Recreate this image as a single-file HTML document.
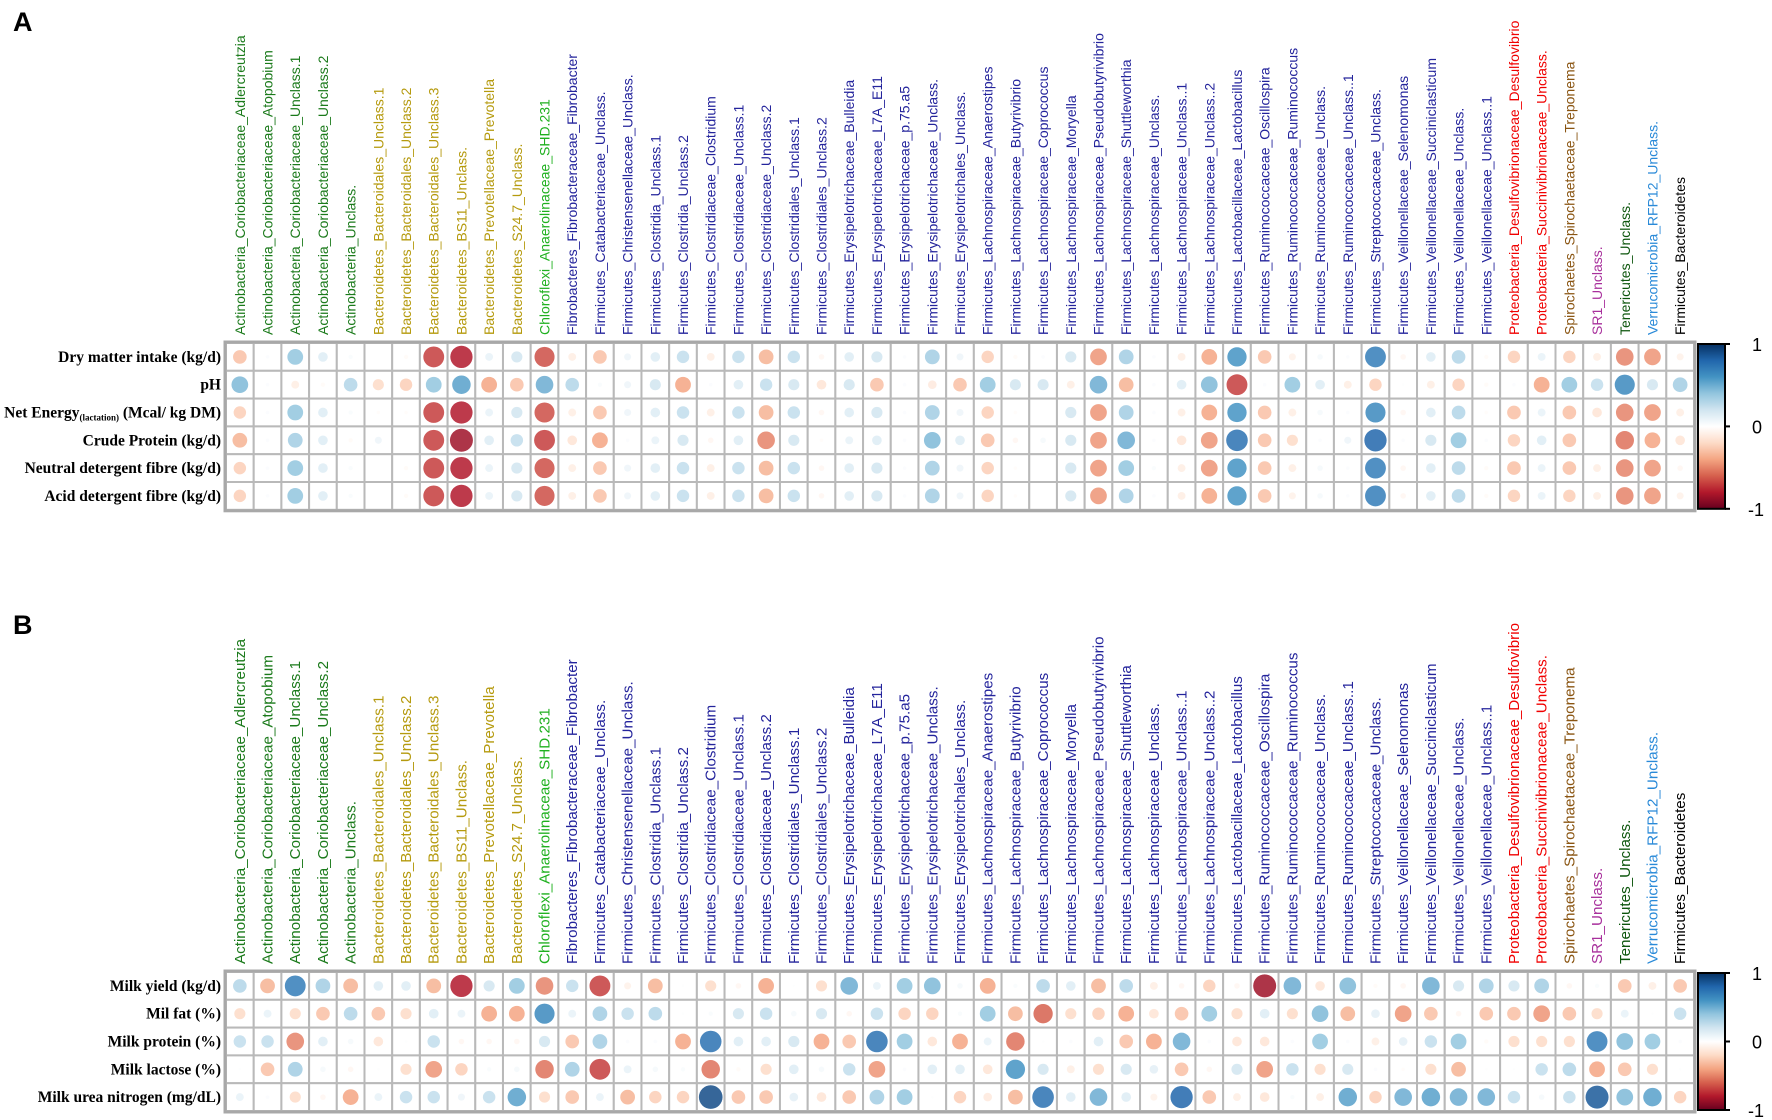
<!DOCTYPE html>
<html><head><meta charset="utf-8"><style>
html,body{margin:0;padding:0;background:#fff;}
svg{display:block;}
</style></head>
<body>
<svg id="chart" width="1772" height="1120" viewBox="0 0 1772 1120" xmlns="http://www.w3.org/2000/svg">
<defs>
<linearGradient id="cbar" x1="0" y1="1" x2="0" y2="0">
<stop offset="0" stop-color="#67001F"/><stop offset="0.1" stop-color="#B2182B"/><stop offset="0.2" stop-color="#D6604D"/><stop offset="0.3" stop-color="#F4A582"/><stop offset="0.4" stop-color="#FDDBC7"/><stop offset="0.5" stop-color="#FFFFFF"/><stop offset="0.6" stop-color="#D1E5F0"/><stop offset="0.7" stop-color="#92C5DE"/><stop offset="0.8" stop-color="#4393C3"/><stop offset="0.9" stop-color="#2166AC"/><stop offset="1" stop-color="#053061"/>
</linearGradient>
</defs>
<text x="13" y="31" font-family="Liberation Sans, sans-serif" font-weight="bold" font-size="27">A</text>
<text x="13" y="634" font-family="Liberation Sans, sans-serif" font-weight="bold" font-size="27">B</text>
<g id="panelA"></g>
<g id="panelB"></g>
</svg>
<script>
const taxa = ["Actinobacteria_Coriobacteriaceae_Adlercreutzia","Actinobacteria_Coriobacteriaceae_Atopobium","Actinobacteria_Coriobacteriaceae_Unclass.1","Actinobacteria_Coriobacteriaceae_Unclass.2","Actinobacteria_Unclass.","Bacteroidetes_Bacteroidales_Unclass.1","Bacteroidetes_Bacteroidales_Unclass.2","Bacteroidetes_Bacteroidales_Unclass.3","Bacteroidetes_BS11_Unclass.","Bacteroidetes_Prevotellaceae_Prevotella","Bacteroidetes_S24.7_Unclass.","Chloroflexi_Anaerolinaceae_SHD.231","Fibrobacteres_Fibrobacteraceae_Fibrobacter","Firmicutes_Catabacteriaceae_Unclass.","Firmicutes_Christensenellaceae_Unclass.","Firmicutes_Clostridia_Unclass.1","Firmicutes_Clostridia_Unclass.2","Firmicutes_Clostridiaceae_Clostridium","Firmicutes_Clostridiaceae_Unclass.1","Firmicutes_Clostridiaceae_Unclass.2","Firmicutes_Clostridiales_Unclass.1","Firmicutes_Clostridiales_Unclass.2","Firmicutes_Erysipelotrichaceae_Bulleidia","Firmicutes_Erysipelotrichaceae_L7A_E11","Firmicutes_Erysipelotrichaceae_p.75.a5","Firmicutes_Erysipelotrichaceae_Unclass.","Firmicutes_Erysipelotrichales_Unclass.","Firmicutes_Lachnospiraceae_Anaerostipes","Firmicutes_Lachnospiraceae_Butyrivibrio","Firmicutes_Lachnospiraceae_Coprococcus","Firmicutes_Lachnospiraceae_Moryella","Firmicutes_Lachnospiraceae_Pseudobutyrivibrio","Firmicutes_Lachnospiraceae_Shuttleworthia","Firmicutes_Lachnospiraceae_Unclass.","Firmicutes_Lachnospiraceae_Unclass..1","Firmicutes_Lachnospiraceae_Unclass..2","Firmicutes_Lactobacillaceae_Lactobacillus","Firmicutes_Ruminococcaceae_Oscillospira","Firmicutes_Ruminococcaceae_Ruminococcus","Firmicutes_Ruminococcaceae_Unclass.","Firmicutes_Ruminococcaceae_Unclass..1","Firmicutes_Streptococcaceae_Unclass.","Firmicutes_Veillonellaceae_Selenomonas","Firmicutes_Veillonellaceae_Succiniclasticum","Firmicutes_Veillonellaceae_Unclass.","Firmicutes_Veillonellaceae_Unclass..1","Proteobacteria_Desulfovibrionaceae_Desulfovibrio","Proteobacteria_Succinivibrionaceae_Unclass.","Spirochaetes_Spirochaetaceae_Treponema","SR1_Unclass.","Tenericutes_Unclass.","Verrucomicrobia_RFP12_Unclass.","Firmicutes_Bacteroidetes"];
const rowsA = ["Dry matter intake (kg/d)","pH","NE","Crude Protein (kg/d)","Neutral detergent fibre (kg/d)","Acid detergent fibre (kg/d)"];
const rowsB = ["Milk yield (kg/d)","Mil fat (%)","Milk protein (%)","Milk lactose (%)","Milk urea nitrogen (mg/dL)"];
const colorbarTicks = ["1","0","-1"];
// Panel A values
const dmi = [-0.3,0.02,0.4,0.15,0.03,0,-0.03,-0.7,-0.8,0.1,0.2,-0.65,-0.1,-0.3,0.08,0.15,0.25,-0.1,0.25,-0.35,0.25,-0.05,0.15,0.2,0.02,0.35,0.08,-0.25,-0.03,0.02,0.2,-0.45,0.35,0.02,-0.1,-0.4,0.6,-0.3,-0.08,0.05,0.02,0.7,-0.05,0.15,0.3,-0.03,-0.25,0.1,-0.25,-0.1,-0.5,-0.45,-0.08];
const ph = [0.45,0.02,-0.1,-0.03,0.3,-0.2,-0.25,0.4,0.55,-0.4,-0.3,0.5,0.3,0.03,0.08,0.2,-0.4,0.02,0.15,0.25,0.2,-0.15,0.2,-0.3,0.02,-0.12,-0.3,0.4,0.2,0.2,-0.1,0.5,-0.35,0.02,0.15,0.45,-0.7,0.02,0.4,0.15,-0.1,-0.25,0.01,-0.1,-0.25,-0.03,0.02,-0.4,0.4,0.25,0.65,0.2,0.35];
const ne = [-0.25,0.02,0.4,0.15,0.03,-0.02,-0.02,-0.7,-0.8,0.1,0.2,-0.65,-0.1,-0.3,0.08,0.15,0.25,-0.1,0.25,-0.35,0.25,-0.05,0.15,0.2,0.02,0.35,0.08,-0.25,-0.02,0,0.2,-0.45,0.35,0.02,-0.1,-0.4,0.6,-0.3,-0.1,0.05,0.02,0.65,-0.05,0.15,0.3,-0.02,-0.3,0.1,-0.3,-0.15,-0.5,-0.45,-0.1];
const cp = [-0.35,0.02,0.35,0.15,-0.03,0.08,0,-0.7,-0.85,0.15,0.25,-0.7,-0.15,-0.4,0.02,0.1,0.2,-0.05,0.15,-0.5,0.2,-0.02,0.1,0.15,0.02,0.45,0.15,-0.3,-0.05,0.05,0.2,-0.45,0.5,0.02,-0.15,-0.45,0.75,-0.3,-0.2,0.02,0.08,0.8,0.02,0.2,0.4,0.02,-0.25,0.15,-0.3,0,-0.55,-0.4,-0.15];
const ndf = [-0.25,0.02,0.4,0.15,0.03,0,-0.03,-0.7,-0.8,0.1,0.2,-0.65,-0.1,-0.3,0.08,0.15,0.25,-0.1,0.25,-0.35,0.25,-0.05,0.15,0.2,0.02,0.35,0.08,-0.25,-0.02,0,0.2,-0.45,0.4,0.03,-0.1,-0.45,0.6,-0.3,-0.1,0.05,0.02,0.7,-0.05,0.15,0.3,-0.03,-0.3,0.1,-0.3,-0.1,-0.5,-0.45,-0.05];
const adf = [-0.25,0.02,0.4,0.15,0.03,0,-0.03,-0.7,-0.8,0.1,0.2,-0.65,-0.1,-0.3,0.08,0.15,0.25,-0.1,0.25,-0.35,0.25,-0.05,0.15,0.2,0.02,0.35,0.08,-0.25,-0.02,0,0.2,-0.45,0.35,0.02,-0.1,-0.4,0.6,-0.3,-0.08,0.05,0.02,0.7,-0.05,0.15,0.3,-0.03,-0.25,0.1,-0.25,-0.1,-0.5,-0.45,-0.08];
// Panel B values
const milkYield = [0.3,-0.35,0.7,0.35,-0.35,0.15,0.15,-0.35,-0.8,0.2,0.4,-0.5,0.25,-0.7,-0.08,-0.35,0.01,-0.2,-0.05,-0.4,0.01,-0.2,0.5,0.1,0.4,0.45,0.05,-0.4,0.03,0.3,0.15,-0.35,0.3,-0.1,-0.05,-0.25,-0.05,-0.85,0.5,-0.15,0.45,-0.03,-0.05,0.5,0.2,0.35,0.2,0.35,-0.05,0.03,-0.3,-0.1,-0.3];
const milkFat = [-0.2,0.1,-0.2,-0.3,0.3,-0.3,-0.2,0.15,0.1,-0.4,-0.4,0.65,0.1,0.35,0.25,0.3,0.01,0.03,0.2,0.25,0.05,0.2,-0.05,0.25,-0.25,-0.25,0.03,0.4,-0.35,-0.6,-0.2,-0.25,-0.4,-0.15,-0.3,0.4,-0.2,0.15,-0.2,0.45,-0.35,0.12,-0.45,-0.3,-0.05,-0.3,-0.3,-0.45,-0.3,-0.2,0.1,0.01,0.25];
const milkProtein = [0.25,0.25,-0.5,0.15,0.05,-0.15,0.01,0.25,-0.05,-0.05,-0.05,0.2,-0.3,0.35,0.02,0.02,-0.4,0.75,0.15,0.15,0.2,-0.4,-0.3,0.75,0.4,-0.15,-0.4,0.1,-0.55,0.01,0.02,0.15,-0.3,-0.4,0.5,0.02,-0.15,-0.15,0.02,0.4,0.02,-0.1,0.12,0.25,0.4,-0.03,-0.2,-0.2,-0.2,0.7,0.45,0.4,0.02];
const milkLactose = [0.01,-0.3,0.35,0.05,-0.05,0.01,-0.2,-0.45,-0.25,0.03,0.05,-0.55,0.35,-0.7,0.1,0.05,0.03,-0.55,-0.03,-0.2,0.15,0.05,0.25,-0.45,0.02,0.15,0.15,-0.15,0.6,0.2,-0.1,-0.2,0.2,0.12,-0.3,-0.05,0.2,-0.45,0.25,-0.2,0.2,0.02,-0.02,-0.2,-0.35,0.01,0.01,0.25,0.3,-0.4,-0.3,-0.2,0.01];
const mun = [0.1,0.02,-0.2,-0.05,-0.4,0.1,0.25,0.25,0.08,0.25,0.55,-0.2,-0.3,0.1,-0.35,-0.25,-0.25,0.9,-0.3,-0.3,0.12,-0.15,-0.3,0.35,0.4,0.01,-0.25,-0.12,-0.35,0.75,0.15,0.5,0.15,-0.08,0.8,-0.3,-0.1,-0.15,0.03,-0.1,0.55,-0.25,0.5,0.55,0.5,0.5,0.25,0.05,0.25,0.85,0.45,0.55,-0.25];

const seriesA = [dmi, ph, ne, cp, ndf, adf];
const seriesB = [milkYield, milkFat, milkProtein, milkLactose, mun];

const NS = "http://www.w3.org/2000/svg";
const PAL = ["#67001F","#B2182B","#D6604D","#F4A582","#FDDBC7","#FFFFFF","#D1E5F0","#92C5DE","#4393C3","#2166AC","#053061"];
function hex(h){return [parseInt(h.slice(1,3),16),parseInt(h.slice(3,5),16),parseInt(h.slice(5,7),16)];}
function colorFor(v){
  const t = (Math.max(-1,Math.min(1,v))+1)/2*10;
  const i = Math.min(9,Math.floor(t)), f = t-i;
  const a = hex(PAL[i]), b = hex(PAL[i+1]);
  return "rgb("+a.map((x,k)=>Math.round(x+(b[k]-x)*f)).join(",")+")";
}
function phylumColor(name){
  if(name==="Firmicutes_Bacteroidetes") return "#000000";
  if(name.startsWith("Actinobacteria")) return "#1b7a1b";
  if(name.startsWith("Bacteroidetes")) return "#b59a0e";
  if(name.startsWith("Chloroflexi")) return "#1fb01f";
  if(name.startsWith("Fibrobacteres")||name.startsWith("Firmicutes")) return "#24249c";
  if(name.startsWith("Proteobacteria")) return "#f00000";
  if(name.startsWith("Spirochaetes")) return "#8a5512";
  if(name.startsWith("SR1")) return "#a8309c";
  if(name.startsWith("Tenericutes")) return "#0d560d";
  if(name.startsWith("Verrucomicrobia")) return "#2a8ad8";
  return "#000";
}
function mk(tag, attrs, parent){
  const e = document.createElementNS(NS, tag);
  for(const k in attrs) e.setAttribute(k, attrs[k]);
  parent.appendChild(e);
  return e;
}

function drawPanel(g, top, rows, series, labelSize){
  const left = 226, right = 1694, cellH = 27.8;
  const cellW = (right-left)/taxa.length;
  const xCenter = j => left + cellW*(j+0.5);
  const yCenter = i => top + cellH*(i+0.5);
  const bottom = top + cellH*rows.length;
  taxa.forEach((t,j)=>{
    const x = xCenter(j)+5, y = top-8;
    const tx = mk("text",{x:x,y:y,transform:"rotate(-90 "+x+" "+y+")","font-family":"Liberation Sans, sans-serif","font-size":labelSize,fill:phylumColor(t)},g);
    tx.textContent = t;
    
    
  });
  rows.forEach((r,i)=>{
    const tx = mk("text",{x:221,y:yCenter(i)+5,"text-anchor":"end","font-family":"Liberation Serif, serif","font-weight":"bold","font-size":"15.5",fill:"#000"},g);
    if(r==="NE"){
      const s1 = mk("tspan",{},tx); s1.textContent="Net Energy";
      const s2 = mk("tspan",{"font-size":"9",dy:"3"},tx); s2.textContent="(lactation)";
      const s3 = mk("tspan",{dy:"-3"},tx); s3.textContent=" (Mcal/ kg DM)";
    } else tx.textContent = r;
    
    
  });
  rows.forEach((r,i)=>{
    taxa.forEach((t,j)=>{
      const rc = mk("rect",{x:left+cellW*j,y:top+cellH*i,width:cellW,height:cellH,fill:"#fff",stroke:"#b9b9b9","stroke-width":"2"},g);
      
      
    });
  });
  rows.forEach((r,i)=>{
    series[i].forEach((v,j)=>{
      const rad = 0.45*Math.min(cellW,cellH)*Math.sqrt(Math.abs(v));
      const c = mk("circle",{cx:xCenter(j),cy:yCenter(i),r:rad,fill:colorFor(v),"fill-opacity":"0.85"},g);
      
      
    });
  });
  const border = mk("rect",{x:left-1,y:top-1,width:right-left+2,height:bottom-top+2,fill:"none",stroke:"#a8a8a8","stroke-width":"3"},g);
  
  
  const cb = mk("rect",{x:1698,y:top+1,width:27,height:bottom-top-2,fill:"url(#cbar)",stroke:"#000","stroke-width":"2"},g);
  
  
  colorbarTicks.forEach((lab,k)=>{
    const y = top+1 + (bottom-top-2)*k/2;
    const tk = mk("line",{x1:1725,x2:1730,y1:y,y2:y,stroke:"#000","stroke-width":"2"},g);
    
    
    const tx = mk("text",{x:lab==="-1"?1748:1752,y:y+7,"font-family":"Liberation Sans, sans-serif","font-size":"18",fill:"#000"},g);
    tx.textContent = lab;
    
    
  });
}
drawPanel(document.getElementById("panelA"), 343, rowsA, seriesA, "14");
drawPanel(document.getElementById("panelB"), 972, rowsB, seriesB, "15.2");
</script>
</body></html>
